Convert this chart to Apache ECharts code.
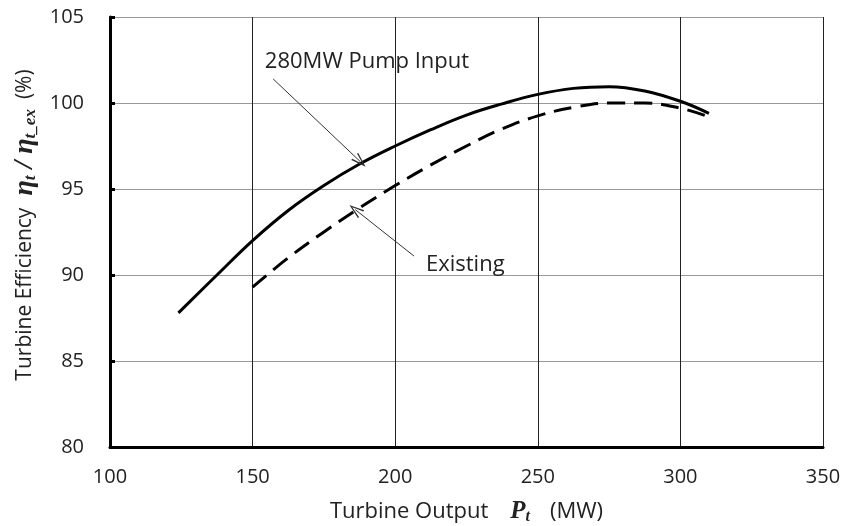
<!DOCTYPE html>
<html><head><meta charset="utf-8">
<script src="https://cdn.jsdelivr.net/npm/echarts@6/dist/echarts.min.js"></script>
<style>html,body{margin:0;padding:0;background:#fff}#c{width:844px;height:526px}</style>
</head><body><div id="c"></div>
<script>
// Data (MW, %)
const pumpX = [124, 137.5, 150, 162.5, 175, 187.5, 200, 212.5, 225, 237.5, 250, 262.5, 275, 287.5, 300, 310];
const pumpY = [87.8, 90.0, 92.0, 93.75, 95.2, 96.45, 97.5, 98.45, 99.3, 99.95, 100.5, 100.85, 100.95, 100.7, 100.1, 99.4];
const existX = [150, 162.5, 175, 187.5, 200, 212.5, 225, 237.5, 250, 262.5, 275, 287.5, 300, 309];
const existY = [89.3, 91.0, 92.5, 93.9, 95.2, 96.4, 97.5, 98.5, 99.25, 99.75, 100.0, 100.0, 99.7, 99.25];
const xTicks = [100, 150, 200, 250, 300, 350];
const yTicks = [80, 85, 90, 95, 100, 105];
const labelPump = '280MW Pump Input';
const labelExist = 'Existing';
const pumpArrow = [[157.2, 101.4], [187.7, 96.6]];
const existArrow = [[206.6, 91.1], [186.0, 93.8]];
const pumpLabelAt = [154.3, 102.4];
const existLabelAt = [210.8, 90.6];

const font = '"Open Sans", Lato, sans-serif';
const mathFont = '"Liberation Serif", "DejaVu Serif", serif';
const chart = echarts.init(document.getElementById('c'));
const pair = (xs, ys) => xs.map((x, i) => [x, ys[i]]);
const openArrow = 'path://M0,20 L6,0 L12,20 L10.2,20 L6,5 L1.8,20 Z';
const arrowLine = (a) => ({
  silent: true, symbol: ['none', openArrow], symbolSize: [10, 15],
  itemStyle: { color: '#222' },
  lineStyle: { color: '#333', width: 1, type: 'solid' }, label: { show: false },
  emphasis: { disabled: true },
  data: [[{ coord: a[0] }, { coord: a[1] }]]
});
const textPoint = (at, txt) => ({
  silent: true, symbol: 'circle', symbolSize: 0,
  label: { show: true, position: 'inside', align: 'left', color: '#222', fontFamily: font, fontSize: 22, formatter: txt },
  data: [{ coord: at }]
});
chart.setOption({
  animation: false,
  grid: { left: 110, right: 21, top: 17, bottom: 79, show: false, containLabel: false, outerBoundsMode: 'none' },
  xAxis: {
    type: 'value', min: xTicks[0], max: xTicks[xTicks.length - 1], interval: 50,
    axisLine: { show: true, onZero: false, lineStyle: { color: '#000', width: 3 } },
    axisTick: { show: false },
    splitLine: { show: true, lineStyle: { color: '#222', width: 1 } },
    axisLabel: { color: '#222', fontFamily: font, fontSize: 20, margin: 20 },
    name: '{a|Turbine Output}{g| }{m|P}{s|t}{h| }{a|(MW)}', nameLocation: 'middle', nameGap: 52,
    nameTextStyle: {
      rich: {
        a: { fontFamily: font, fontSize: 22, color: '#222' },
        g: { width: 22 },
        h: { width: 20 },
        m: { fontFamily: mathFont, fontStyle: 'italic', fontWeight: 'bold', fontSize: 25, color: '#222' },
        s: { fontFamily: mathFont, fontStyle: 'italic', fontWeight: 'bold', fontSize: 16, color: '#222', verticalAlign: 'bottom', padding: [10, 0, 0, 0] }
      }
    }
  },
  yAxis: {
    type: 'value', min: yTicks[0], max: yTicks[yTicks.length - 1], interval: 5,
    axisLine: { show: true, onZero: false, lineStyle: { color: '#000', width: 3 } },
    axisTick: { show: true, inside: true, length: 5, lineStyle: { color: '#000', width: 3 } },
    splitLine: { show: true, lineStyle: { color: '#999', width: 1.2 } },
    axisLabel: { color: '#222', fontFamily: font, fontSize: 20, margin: 26 },
    name: '{lead| }{a|Turbine Efficiency}{g| }{m|η}{s|t}{m| / η}{s|t_ex}{h| }{a|(%)}', nameLocation: 'middle', nameGap: 70, nameRotate: 90,
    nameTextStyle: {
      rich: {
        lead: { width: 14 },
        g: { width: 12 },
        h: { width: 10 },
        a: { fontFamily: font, fontSize: 21, color: '#222' },
        m: { fontFamily: mathFont, fontStyle: 'italic', fontWeight: 'bold', fontSize: 28, color: '#222' },
        s: { fontFamily: mathFont, fontStyle: 'italic', fontWeight: 'bold', fontSize: 17, color: '#222', verticalAlign: 'bottom', padding: [10, 0, 0, 0] }
      }
    }
  },
  series: [
    {
      type: 'line', data: pair(pumpX, pumpY), smooth: 0.4, showSymbol: false,
      lineStyle: { color: '#000', width: 3 },
      markLine: arrowLine(pumpArrow), markPoint: textPoint(pumpLabelAt, labelPump)
    },
    {
      type: 'line', data: pair(existX, existY), smooth: 0.4, showSymbol: false,
      lineStyle: { color: '#000', width: 3, type: [18, 9] },
      markLine: arrowLine(existArrow), markPoint: textPoint(existLabelAt, labelExist)
    }
  ]
});
</script></body></html>
